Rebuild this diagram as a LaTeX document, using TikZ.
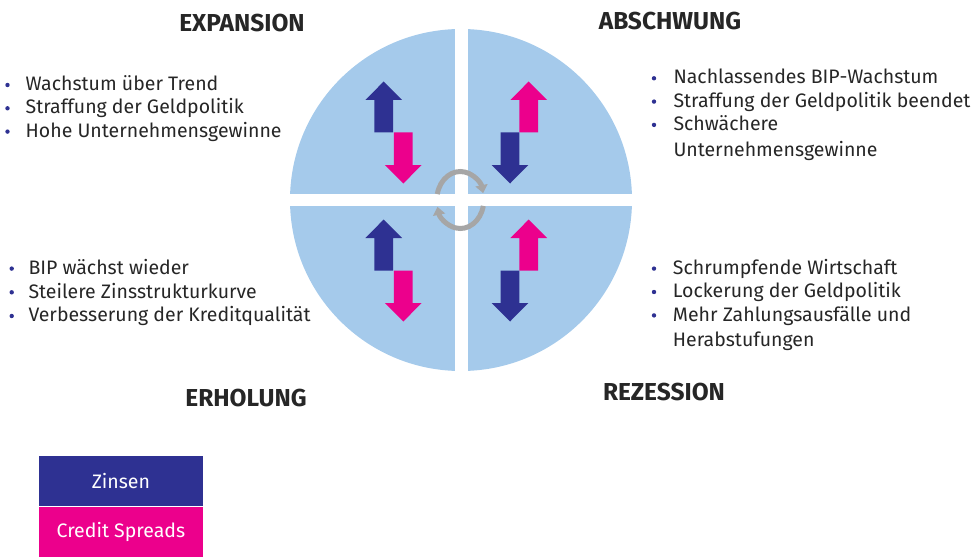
\documentclass[tikz,border=0pt]{standalone}
\usepackage{fontspec}
\setmainfont{Fira Sans}
\usetikzlibrary{arrows.meta,positioning}
\definecolor{zins}{HTML}{2E3192}
\definecolor{spread}{HTML}{EC008C}
\definecolor{phase}{HTML}{A5CAEB}
\definecolor{ringgray}{HTML}{A6A6A6}
\definecolor{ink}{HTML}{262626}
\tikzset{
	title/.style={anchor=base, inner sep=0pt, text=ink, font=\bfseries\fontsize{24.5}{28}\selectfont},
	item/.style={anchor=base west, inner sep=0pt, text=ink, font=\fontsize{19.5}{23}\selectfont},
	legend/.style={minimum width=163.7pt, minimum height=50.5pt, inner sep=0pt, text=white, font=\fontsize{19.5}{23}\selectfont},
	turnarrow/.style={ringgray, line width=5pt, -{Triangle[width=12pt,length=8pt]}},
}
\begin{document}
\begin{tikzpicture}[x=1pt,y=1pt]
	\useasboundingbox (0,0) rectangle (976,558);

	% the four phases
	\fill[phase] (461,358) circle (171);
	\draw[white,line width=12.5pt] (288,358) -- (634,358);
	\draw[white,line width=13pt] (461.5,185) -- (461.5,531);

	% Zinsen and Credit Spreads, up or down
	\foreach \x/\y/\c/\d in {383.7/425.5/zins/1, 403.3/425.5/spread/-1, 528.7/425.5/spread/1, 510/425.5/zins/-1,
			383.7/287.5/zins/1, 403.3/287.5/spread/-1, 528.7/287.5/spread/1, 510/287.5/zins/-1}
	{
		\begin{scope}[shift={(\x,\y)},yscale=\d]
			\fill[\c] (-9.35,0) -- (-9.35,32.5) -- (-18.35,32.5) -- (0,51) -- (18.35,32.5) -- (9.35,32.5) -- (9.35,0) -- cycle;
		\end{scope}
	}

	% the cycle in the middle
	\draw[turnarrow] (460.3,358) ++(168:23.5 and 28.5) arc[start angle=168,end angle=14,x radius=23.5,y radius=28.5];
	\draw[turnarrow] (460.3,358) ++(-12:23.5 and 28.5) arc[start angle=-12,end angle=-166,x radius=23.5,y radius=28.5];

	% phase names
	\node[title] (expansion) at (242,526.3) {EXPANSION};
	\node[title] (abschwung) at (670,528) {ABSCHWUNG};
	\node[title] (erholung) at (246,151.3) {ERHOLUNG};
	\node[title] (rezession) at (664,157.3) {REZESSION};

	% bullet lists
	\foreach \t [count=\i] in {Wachstum über Trend, Straffung der Geldpolitik, Hohe Unternehmensgewinne}
	{
		\node[item] (exp\i) at (25.5,490.6-23.3*\i) {\t};
		\fill[zins] (7.5,496.3-23.3*\i) circle (2.2);
	}
	\foreach \t [count=\i] in {Nachlassendes BIP-Wachstum, Straffung der Geldpolitik beendet, Schwächere}
	{
		\node[item] (abs\i) at (673.3,497.3-23.3*\i) {\t};
		\fill[zins] (654,503-23.3*\i) circle (2.2);
	}
	\node[item] (abs4) at (673.3,401.3) {Unternehmensgewinne};
	\foreach \t [count=\i] in {BIP wächst wieder, Steilere Zinsstrukturkurve, Verbesserung der Kreditqualität}
	{
		\node[item] (erh\i) at (28.3,307.4-23.7*\i) {\t};
		\fill[zins] (11.7,313.1-23.7*\i) circle (2.2);
	}
	\foreach \t [count=\i] in {Schrumpfende Wirtschaft, Lockerung der Geldpolitik, Mehr Zahlungsausfälle und}
	{
		\node[item] (rez\i) at (672.7,307.1-23.4*\i) {\t};
		\fill[zins] (654,312.8-23.4*\i) circle (2.2);
	}
	\node[item] (rez4) at (672.7,212) {Herabstufungen};

	% legend
	\node[legend,fill=zins] (zinsen) at (120.9,77) {Zinsen};
	\node[legend,fill=spread,below=0pt of zinsen] (spreads) {Credit Spreads};
\end{tikzpicture}
\end{document}
